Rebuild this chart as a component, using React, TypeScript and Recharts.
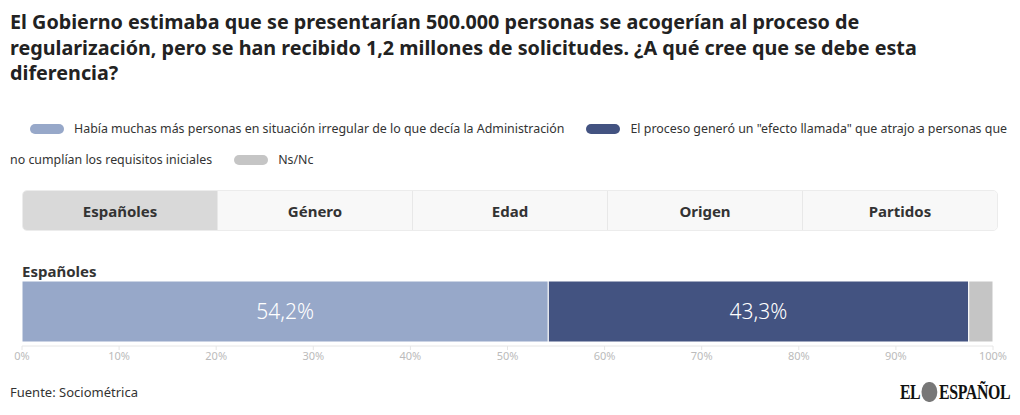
import { BarChart, Bar, XAxis, YAxis, LabelList } from 'recharts'

const CATEGORIES = ['Españoles']
const SERIES_NAMES = [
  'Había muchas más personas en situación irregular de lo que decía la Administración',
  'El proceso generó un "efecto llamada" que atrajo a personas que no cumplían los requisitos iniciales',
  'Ns/Nc',
]
const IRREGULAR = [54.2]
const EFECTO_LLAMADA = [43.3]
const NSNC = [2.5]
const TICKS = [0, 10, 20, 30, 40, 50, 60, 70, 80, 90, 100]
const TABS = ['Españoles', 'Género', 'Edad', 'Origen', 'Partidos']

const COLORS = ['#97a8c9', '#435381', '#c5c5c5']
const FONT = "'Source Sans Pro', 'Noto Sans', Lato, sans-serif"

const data = CATEGORIES.map((c, i) => ({
  name: c,
  irregular: IRREGULAR[i],
  llamada: EFECTO_LLAMADA[i],
  nsnc: NSNC[i],
}))

const pct = (v: any) => String(v).replace('.', ',') + '%'

// the long legend entry wraps after "personas que" in the original
const breakAt = SERIES_NAMES[1].indexOf(' no cumplían')
const LEGEND_2A = SERIES_NAMES[1].slice(0, breakAt)
const LEGEND_2B = SERIES_NAMES[1].slice(breakAt + 1)

function Chip({ color }: { color: string }) {
  return (
    <span
      style={{
        display: 'inline-block',
        width: 34,
        height: 10,
        borderRadius: 5,
        background: color,
        verticalAlign: 'middle',
        margin: '0 10px 0 0',
        position: 'relative',
        top: -1,
      }}
    />
  )
}

export default function App() {
  return (
    <div
      style={{
        position: 'absolute',
        left: 0,
        top: 0,
        width: 1020,
        height: 415,
        background: '#fff',
        fontFamily: FONT,
        color: '#333',
        overflow: 'hidden',
      }}
    >
      <div
        style={{
          position: 'absolute',
          left: 10,
          top: 9,
          width: 1000,
          fontSize: 19.75,
          lineHeight: '25.5px',
          fontWeight: 700,
          color: '#222',
        }}
      >
        El Gobierno estimaba que se presentarían 500.000 personas se acogerían al proceso de regularización,
        pero se han recibido 1,2 millones de solicitudes. ¿A qué cree que se debe esta diferencia?
      </div>

      <div
        style={{
          position: 'absolute',
          left: 10,
          top: 113,
          width: 1000,
          fontSize: 12.4,
          lineHeight: '31px',
        }}
      >
        <div style={{ paddingLeft: 20, whiteSpace: 'nowrap' }}>
          <Chip color={COLORS[0]} />
          <span style={{ marginRight: 22 }}>{SERIES_NAMES[0]}</span>
          <Chip color={COLORS[1]} />
          <span>{LEGEND_2A}</span>
        </div>
        <div style={{ whiteSpace: 'nowrap' }}>
          <span style={{ marginRight: 22 }}>{LEGEND_2B}</span>
          <Chip color={COLORS[2]} />
          <span>{SERIES_NAMES[2]}</span>
        </div>
      </div>

      <div
        style={{
          position: 'absolute',
          left: 22,
          top: 190,
          width: 976,
          height: 41,
          display: 'flex',
          border: '1px solid #ececec',
          borderRadius: 5,
          overflow: 'hidden',
          boxSizing: 'border-box',
        }}
      >
        {TABS.map((t, i) => (
          <div
            key={t}
            style={{
              flex: 1,
              display: 'flex',
              alignItems: 'center',
              justifyContent: 'center',
              fontSize: 15,
              fontWeight: 700,
              color: '#333',
              background: i === 0 ? '#d9d9d9' : '#f8f8f8',
              borderLeft: i === 0 ? 'none' : '1px solid #e8e8e8',
            }}
          >
            {t}
          </div>
        ))}
      </div>

      <div
        style={{
          position: 'absolute',
          left: 22,
          top: 261,
          fontSize: 15,
          fontWeight: 700,
          color: '#333',
        }}
      >
        {CATEGORIES[0]}
      </div>

      <div style={{ position: 'absolute', left: 0, top: 276 }}>
        <BarChart
          layout="vertical"
          width={1020}
          height={100}
          data={data}
          barCategoryGap={0}
          margin={{ top: 5, right: 27, left: 22, bottom: 0 }}
        >
          <XAxis
            type="number"
            domain={[0, 100]}
            ticks={TICKS}
            tickFormatter={(v) => v + '%'}
            tick={{ fontSize: 11, fill: '#bbb', fontFamily: FONT }}
            axisLine={{ stroke: '#e6e6e6' }}
            tickLine={{ stroke: '#e6e6e6' }}
            tickSize={4}
            height={30}
          />
          <YAxis
            type="category"
            dataKey="name"
            hide
            width={0}
            padding={{ top: 0, bottom: 4 }}
          />
          <Bar dataKey="irregular" stackId="a" fill={COLORS[0]} stroke="#fff" strokeWidth={1} isAnimationActive={false}>
            <LabelList
              dataKey="irregular"
              position="center"
              formatter={pct}
              fill="#fff"
              style={{ fontSize: 21, fontFamily: FONT, fontWeight: 300 }}
            />
          </Bar>
          <Bar dataKey="llamada" stackId="a" fill={COLORS[1]} stroke="#fff" strokeWidth={1} isAnimationActive={false}>
            <LabelList
              dataKey="llamada"
              position="center"
              formatter={pct}
              fill="#fff"
              style={{ fontSize: 21, fontFamily: FONT, fontWeight: 300 }}
            />
          </Bar>
          <Bar dataKey="nsnc" stackId="a" fill={COLORS[2]} stroke="#fff" strokeWidth={1} isAnimationActive={false} />
        </BarChart>
      </div>

      <div style={{ position: 'absolute', left: 10, top: 383, fontSize: 13, color: '#333' }}>
        Fuente: Sociométrica
      </div>

      <div
        style={{
          position: 'absolute',
          right: 10,
          top: 379,
          fontFamily: "'Liberation Serif', serif",
          fontWeight: 700,
          fontSize: 22,
          color: '#111',
          transform: 'scaleX(0.72)',
          transformOrigin: 'right center',
          letterSpacing: -0.5,
          display: 'flex',
          alignItems: 'center',
        }}
      >
        EL
        <span
          style={{
            display: 'inline-block',
            width: 22,
            height: 20,
            borderRadius: 10,
            background: '#777',
            margin: '0 2px',
          }}
        />
        ESPAÑOL
      </div>
    </div>
  )
}
